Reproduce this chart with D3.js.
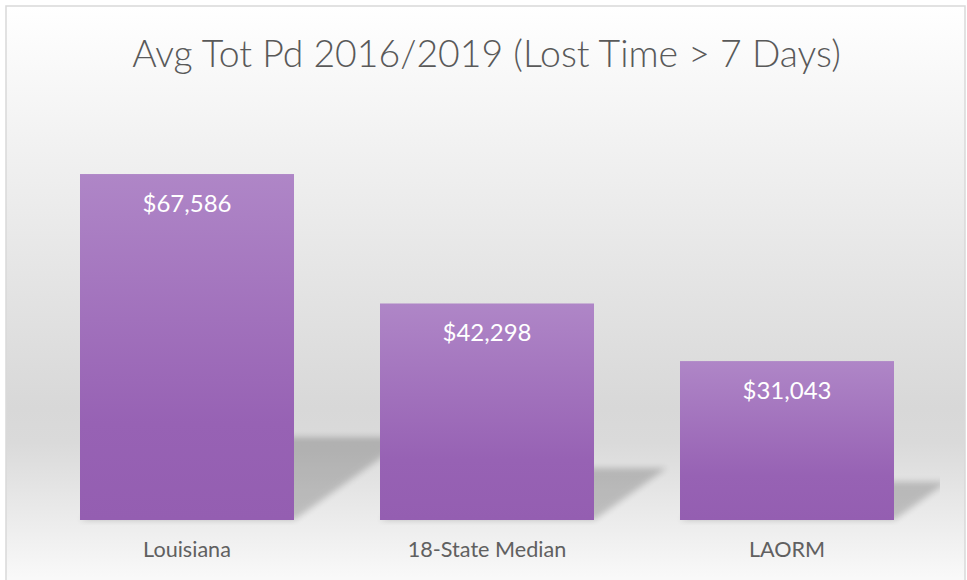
<!DOCTYPE html>
<html>
<head>
<meta charset="utf-8">
<script src="https://cdn.jsdelivr.net/npm/d3@7"></script>
<style>
  body { margin: 0; background: #fff; }
</style>
</head>
<body>
<div id="chart"></div>
<script>
// Data
var categories = ["Louisiana", "18-State Median", "LAORM"];
var values = [67586, 42298, 31043];
var title = "Avg Tot Pd 2016/2019 (Lost Time > 7 Days)";

// Measurement
var w = 967, h = 580;
var plot = { left: 37, right: 937, top: 110.5, bottom: 520 };

var svg = d3.select("#chart").append("svg")
  .attr("width", w)
  .attr("height", h);

var defs = svg.append("defs");

// background gradient: white -> gray wall -> light floor
var bg = defs.append("linearGradient")
  .attr("id", "bgGrad")
  .attr("x1", 0).attr("y1", 0).attr("x2", 0).attr("y2", 1);
bg.append("stop").attr("offset", "0%").attr("stop-color", "#ffffff");
bg.append("stop").attr("offset", "68%").attr("stop-color", "#d8d8d8");
bg.append("stop").attr("offset", "74%").attr("stop-color", "#dadada");
bg.append("stop").attr("offset", "100%").attr("stop-color", "#fdfdfd");

// bar gradient
var barGrad = defs.append("linearGradient")
  .attr("id", "barGrad")
  .attr("x1", 0).attr("y1", 0).attr("x2", 0).attr("y2", 1);
barGrad.append("stop").attr("offset", "0%").attr("stop-color", "#af86c7");
barGrad.append("stop").attr("offset", "72%").attr("stop-color", "#9762b4");
barGrad.append("stop").attr("offset", "100%").attr("stop-color", "#945eb1");

// shadow blur
defs.append("filter")
  .attr("id", "blur")
  .attr("x", "-20%").attr("y", "-20%").attr("width", "140%").attr("height", "140%")
  .append("feGaussianBlur")
  .attr("stdDeviation", 3);

defs.append("clipPath")
  .attr("id", "plotClip")
  .append("rect")
  .attr("x", plot.left)
  .attr("y", plot.top)
  .attr("width", plot.right + 3 - plot.left)
  .attr("height", plot.bottom - plot.top + 5);

// chart area
svg.append("rect")
  .attr("x", 6).attr("y", 6)
  .attr("width", 959).attr("height", 590)
  .attr("fill", "url(#bgGrad)")
  .attr("stroke", "#d9d9d9")
  .attr("stroke-width", 1.5);

// Scaling
var xScale = d3.scaleBand()
  .domain(categories)
  .range([plot.left, plot.right])
  .paddingInner(0.2867)
  .paddingOuter(0.2867 / 2);

var yScale = d3.scaleLinear()
  .domain([0, 80000])
  .range([plot.bottom, plot.top]);

var data = categories.map(function(c, i) { return { name: c, value: values[i] }; });

// perspective shadows
var shadowScale = 0.24, shear = 1.4;
svg.append("g")
  .attr("clip-path", "url(#plotClip)")
  .selectAll("path")
  .data(data)
  .enter()
  .append("path")
  .attr("d", function(d) {
    var x0 = xScale(d.name), x1 = x0 + xScale.bandwidth();
    var yb = yScale(0);
    var sh = (yb - yScale(d.value)) * shadowScale;
    var s = sh * shear;
    return "M" + x0 + "," + yb + "L" + x1 + "," + yb +
      "L" + (x1 + s) + "," + (yb - sh) + "L" + (x0 + s) + "," + (yb - sh) + "Z";
  })
  .attr("fill", "#000")
  .attr("opacity", 0.19)
  .attr("filter", "url(#blur)");

// bars
svg.selectAll(".bar")
  .data(data)
  .enter()
  .append("rect")
  .attr("class", "bar")
  .attr("x", function(d) { return xScale(d.name); })
  .attr("y", function(d) { return yScale(d.value); })
  .attr("width", xScale.bandwidth())
  .attr("height", function(d) { return yScale(0) - yScale(d.value); })
  .attr("fill", "url(#barGrad)");

// value labels
var fmt = d3.format("$,");
svg.selectAll(".label")
  .data(data)
  .enter()
  .append("text")
  .attr("class", "label")
  .attr("x", function(d) { return xScale(d.name) + xScale.bandwidth() / 2; })
  .attr("y", function(d) { return yScale(d.value) + 38; })
  .attr("text-anchor", "middle")
  .attr("font-family", "Lato")
  .attr("font-size", 24)
  .attr("fill", "#ffffff")
  .text(function(d) { return fmt(d.value); });

// category axis (no line)
var xAxis = d3.axisBottom(xScale).tickSize(0).tickPadding(0);
var gx = svg.append("g")
  .attr("transform", "translate(0," + plot.bottom + ")")
  .call(xAxis);
gx.select(".domain").remove();
gx.selectAll("text")
  .attr("dy", 0)
  .attr("y", 37)
  .attr("font-family", "Lato")
  .attr("font-size", 21.6)
  .attr("fill", "#606060");

// title
svg.append("text")
  .attr("x", 486.5)
  .attr("y", 67)
  .attr("text-anchor", "middle")
  .attr("font-family", "Lato")
  .attr("font-weight", 300)
  .attr("font-size", 37.4)
  .attr("fill", "#595959")
  .text(title);
</script>
</body>
</html>
